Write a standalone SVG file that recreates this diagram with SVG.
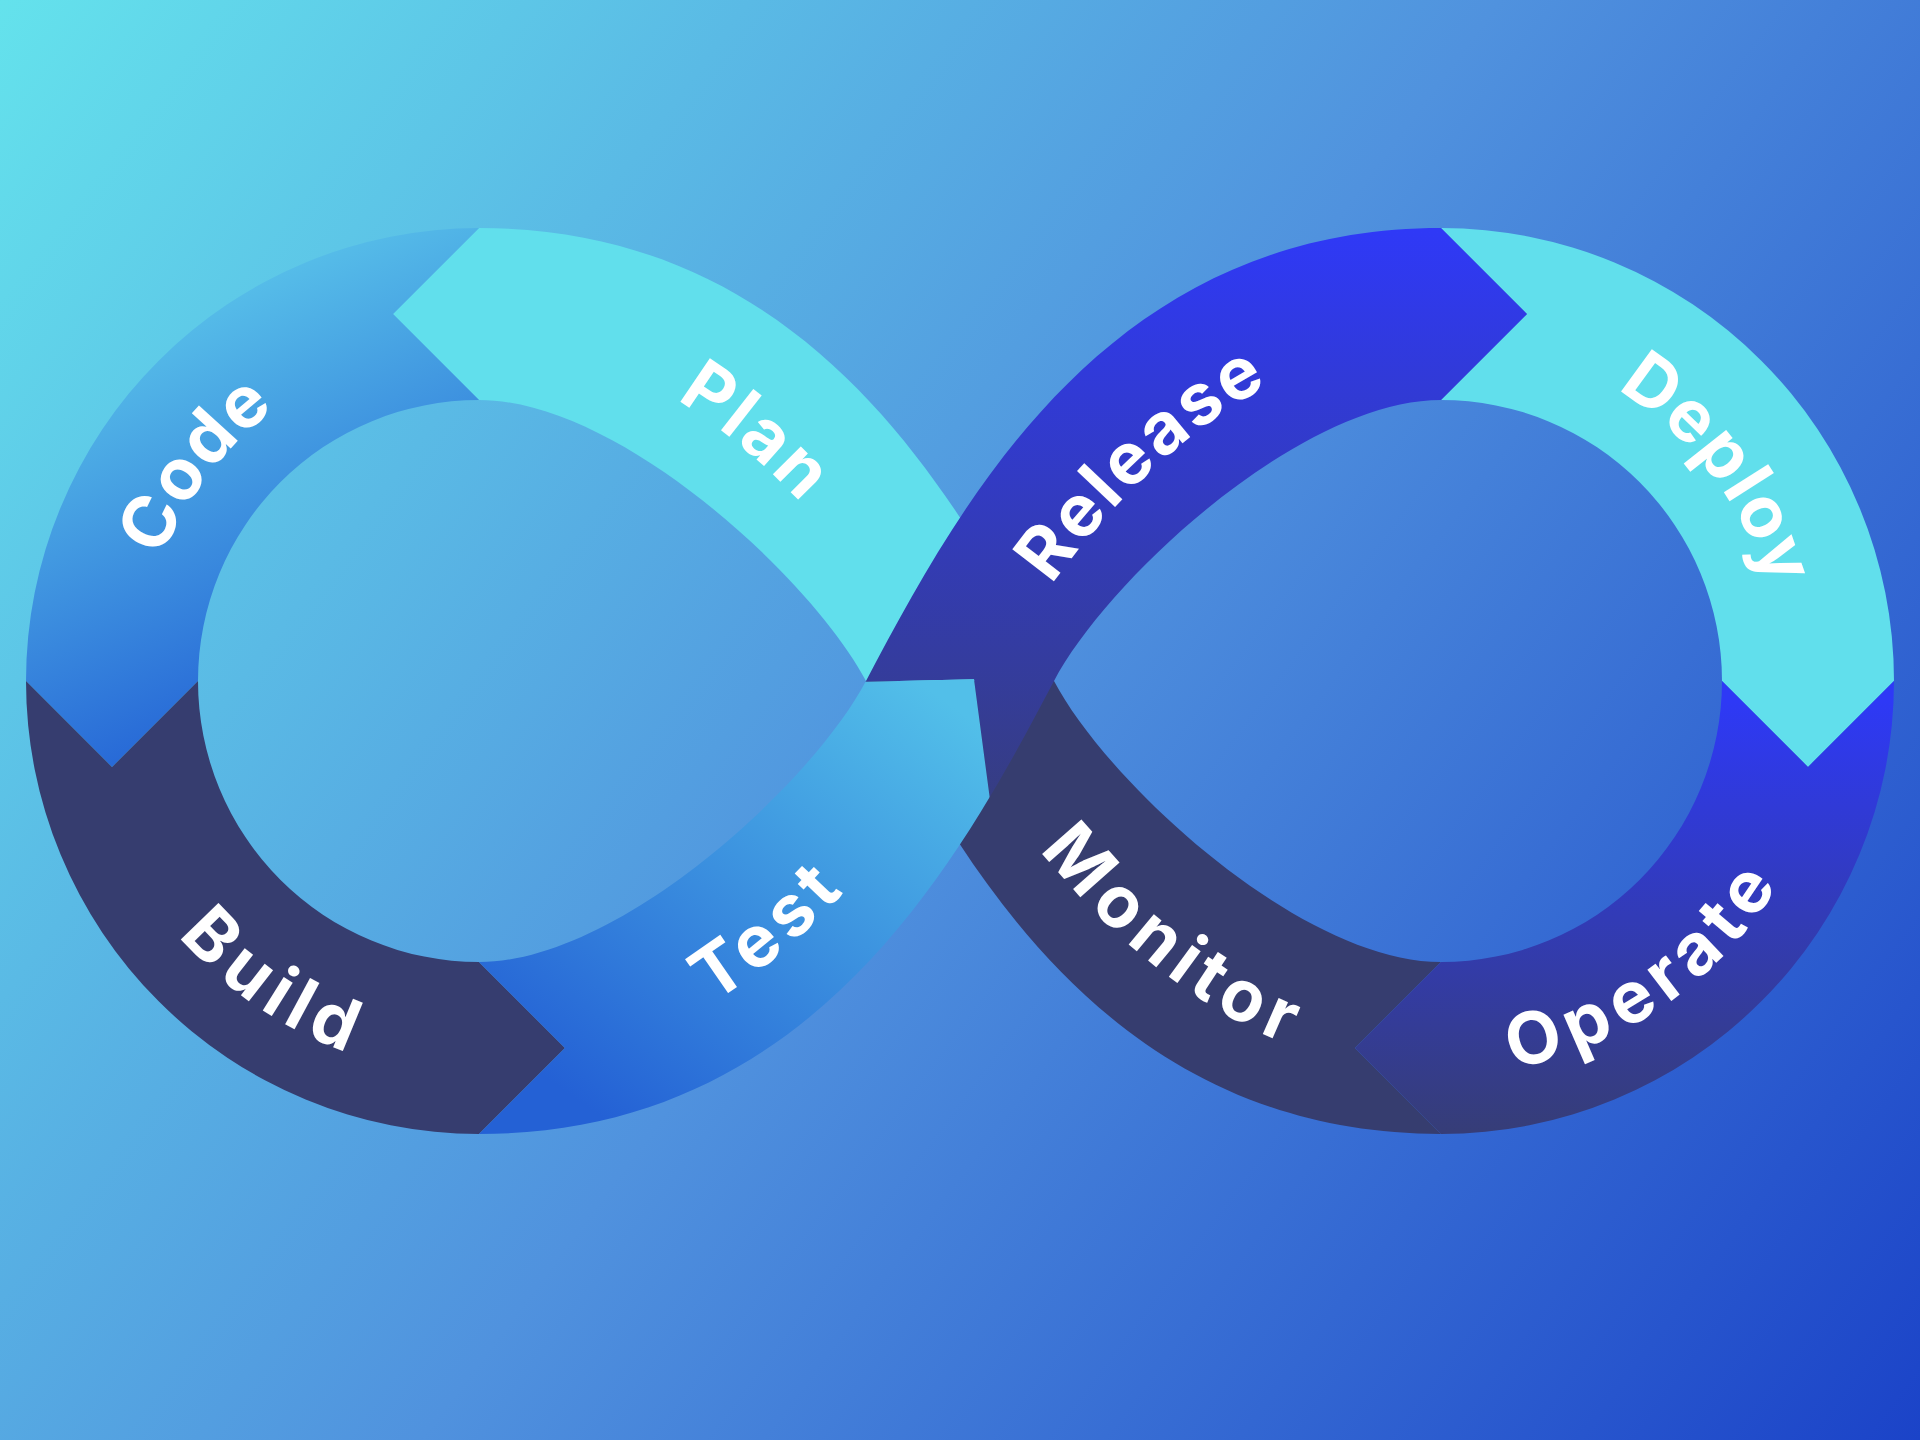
<svg xmlns="http://www.w3.org/2000/svg" width="1920" height="1440" viewBox="0 0 1920 1440">
<style>
.lbl{font-family:Inter,"Open Sans","Liberation Sans",sans-serif;font-weight:700;font-size:72px;fill:#ffffff;letter-spacing:5px;dominant-baseline:central;}
</style>
<defs>
<linearGradient id="gBg" gradientUnits="userSpaceOnUse" x1="0" y1="0" x2="1920" y2="1440">
<stop offset="0" stop-color="#64E2EC"/><stop offset="0.5" stop-color="#5092DE"/><stop offset="1" stop-color="#1B43C8"/>
</linearGradient>
<linearGradient id="gCode" gradientUnits="userSpaceOnUse" x1="100" y1="300" x2="300" y2="720">
<stop offset="0" stop-color="#5CC8EB"/><stop offset="1" stop-color="#2361D5"/>
</linearGradient>
<linearGradient id="gTest" gradientUnits="userSpaceOnUse" x1="930" y1="690" x2="620" y2="1130">
<stop offset="0" stop-color="#52BFE9"/><stop offset="1" stop-color="#2461D5"/>
</linearGradient>
<linearGradient id="gRelease" gradientUnits="userSpaceOnUse" x1="0" y1="228" x2="0" y2="810">
<stop offset="0" stop-color="#2F39F7"/><stop offset="1" stop-color="#363D80"/>
</linearGradient>
<linearGradient id="gOperate" gradientUnits="userSpaceOnUse" x1="0" y1="700" x2="0" y2="1134">
<stop offset="0" stop-color="#2E39F6"/><stop offset="1" stop-color="#363D77"/>
</linearGradient>
<clipPath id="cTest"><polygon points="479,1440 479,1134 565,1048 479,962 479,681 866,681.7 974,679.3 1075,1440"/></clipPath>
<clipPath id="cRelease"><polygon points="0,0 1920,0 1920,1440 1075,1440 974,679.3 866,681.7 0,681.7"/></clipPath>
<path id="trBand" d="M479,1134 C809,1134 956.1,866.9 1054,681 C1107.6,579.2 1301,400 1441,400 L1527,314 L1441,228 C1111,228 963.9,495.1 866,681 C812.4,782.8 619,962 479,962 Z"/>
<path id="pCode" d="M139.7,820.9 A367,367 0 0 1 527.6,317.2"/>
<path id="pBuild" d="M113,653.5 A367,367 0 0 0 638.2,1011.7"/>
<path id="pDeploy" d="M1392.4,317.2 A367,367 0 0 1 1780.3,820.9"/>
<path id="pOperate" d="M1281.8,1011.7 A367,367 0 0 0 1807,653.5"/>
<path id="pPlan" d="M479,314 C714,314 884.3,537.2 960,681"/>
<path id="pTest" d="M479,1048 C714,1048 884.3,824.8 960,681"/>
<path id="pRelease" d="M960,681 C1035.7,537.2 1206,314 1441,314"/>
<path id="pMonitor" d="M960,681 C1035.7,824.8 1206,1048 1441,1048"/>
</defs>
<rect x="0" y="0" width="1920" height="1440" fill="url(#gBg)"/>

<g id="node-plan">
<path d="M479,228 C809,228 956.1,495.1 1054,681 L866,681 C812.4,579.2 619,400 479,400 L393,314 Z" fill="#61DFEC"/>
<text class="lbl"><textPath href="#pPlan" startOffset="49%" text-anchor="middle">Plan</textPath></text>
</g>
<g id="node-monitor">
<path d="M866,681 C963.9,866.9 1111,1134 1441,1134 L1355,1048 L1441,962 C1301,962 1107.6,782.8 1054,681 Z" fill="#363D6F"/>
<text class="lbl"><textPath href="#pMonitor" startOffset="53%" text-anchor="middle">Monitor</textPath></text>
</g>
<g id="node-code">
<path d="M479,228 A453,453 0 0 0 26,681 L112,767 L198,681 A281,281 0 0 1 479,400 L393,314 Z" fill="url(#gCode)"/>
<text class="lbl"><textPath href="#pCode" startOffset="50%" text-anchor="middle">Code</textPath></text>
</g>
<g id="node-build">
<path d="M26,681 A453,453 0 0 0 479,1134 L565,1048 L479,962 A281,281 0 0 1 198,681 L112,767 Z" fill="#363D6F"/>
<text class="lbl"><textPath href="#pBuild" startOffset="50%" text-anchor="middle">Build</textPath></text>
</g>
<g id="node-deploy">
<path d="M1441,228 A453,453 0 0 1 1894,681 L1808,767 L1722,681 A281,281 0 0 0 1441,400 L1527,314 Z" fill="#61DFEC"/>
<text class="lbl"><textPath href="#pDeploy" startOffset="50.5%" text-anchor="middle">Deploy</textPath></text>
</g>
<g id="node-operate">
<path d="M1894,681 A453,453 0 0 1 1441,1134 L1355,1048 L1441,962 A281,281 0 0 0 1722,681 L1808,767 Z" fill="url(#gOperate)"/>
<text class="lbl"><textPath href="#pOperate" startOffset="50.5%" text-anchor="middle">Operate</textPath></text>
</g>
<g id="node-release">
<use href="#trBand" fill="url(#gRelease)" clip-path="url(#cRelease)"/>
<text class="lbl"><textPath href="#pRelease" startOffset="45.5%" text-anchor="middle">Release</textPath></text>
</g>
<g id="node-test">
<use href="#trBand" fill="url(#gTest)" clip-path="url(#cTest)"/>
<text class="lbl"><textPath href="#pTest" startOffset="50%" text-anchor="middle">Test</textPath></text>
</g>
</svg>
